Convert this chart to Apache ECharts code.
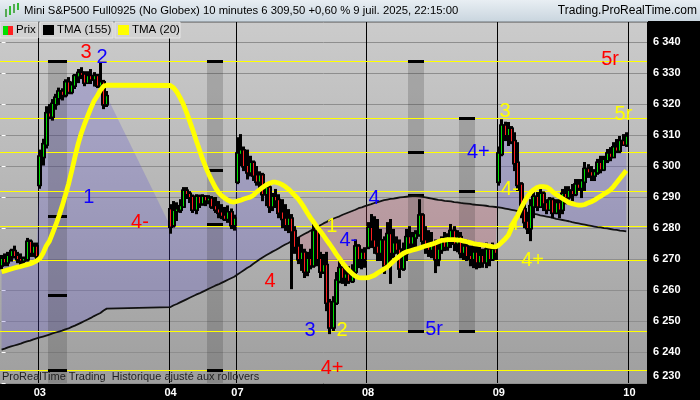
<!DOCTYPE html>
<html><head><meta charset="utf-8">
<script src="https://cdn.jsdelivr.net/npm/echarts/dist/echarts.min.js"></script>
<style>html,body{margin:0;padding:0;background:#000}#c{width:700px;height:400px}</style>
</head><body><div id="c"></div><script>
const FONT = '"Liberation Sans", Arial, sans-serif';
const dayLabels = ['03', '04', '07', '08', '09', '10'];
const dayStartSlots = [12, 53, 74, 115, 156, 197];
const slotCount = 203;
const sessionFirstSlots = [0, 12, 53, 74, 115, 156];

// [open, high, low, close]
const bars02 = [[6268,6271,6267,6270],[6270,6271.5,6268,6269],[6269,6272,6268,6271],[6271,6273,6269.5,6272.5],[6272.5,6274,6270.5,6271],[6271,6272,6269,6270],[6270,6271.5,6268.5,6269.5],[6269.5,6270.5,6268,6270],[6270,6276.5,6269.5,6275.5],[6275.5,6276,6271,6272],[6272,6275,6271,6274],[6274,6275,6270,6271]];
const bars03 = [[6294,6305,6293,6303],[6303,6308.5,6300.5,6307],[6307,6319,6306,6317],[6317,6319.7,6315.5,6316],[6316,6321.3,6315,6320],[6320,6323,6318.5,6322],[6322,6325,6320,6324],[6324,6324.8,6321.5,6323],[6323,6327.7,6322.5,6327],[6327,6328.4,6323.5,6324],[6324,6327,6323.5,6326],[6326,6329.4,6325.2,6329],[6329,6331,6327.1,6330],[6330,6331.6,6328.4,6329.5],[6329.5,6330.3,6326.1,6327],[6327,6330.3,6326.8,6329],[6329,6331,6326.8,6328],[6328,6330,6326,6329],[6329,6329.4,6325.5,6326],[6326,6333,6324.5,6327],[6327,6327.5,6318.7,6320],[6320,6323.9,6319.4,6322.5]];
const bars04 = [[6286,6287.4,6278.5,6280.5],[6281,6288.4,6280.5,6285.5],[6285.5,6288,6282.6,6286],[6286,6289,6285.2,6287],[6287,6292.9,6286.8,6292],[6292,6292.9,6289.7,6291],[6291,6291.6,6288.4,6290],[6290,6290.5,6285.2,6286],[6286,6290.6,6284.8,6290],[6290,6290.5,6286.8,6288],[6288,6290.6,6287.5,6290],[6290,6290.3,6287.4,6289],[6289,6290.3,6288,6289.5],[6289.5,6290,6286.5,6287],[6287,6289.7,6285.2,6286],[6286,6288.4,6283.5,6285],[6285,6287.4,6283.2,6284],[6284,6286.5,6282.6,6283],[6283,6287,6282,6285],[6285,6286,6280,6281],[6281,6284,6279.5,6283]];
const bars07 = [[6295,6309,6294.5,6304],[6304,6310,6300.3,6305],[6305,6306,6298.7,6300],[6300,6305,6296,6298],[6298,6303,6297,6301],[6301,6301.5,6295.5,6297],[6297,6299.7,6294,6295],[6295,6298,6292.3,6297],[6297,6297.5,6289,6291],[6291,6294,6287.4,6293],[6293,6293.5,6285.2,6287],[6287,6291,6285.8,6290],[6290,6292.3,6286.8,6289],[6289,6290.6,6283.5,6285],[6285,6289,6280.3,6283],[6283,6287.4,6279.4,6281],[6281,6285.8,6278.7,6283],[6283,6284.2,6260.6,6279],[6279,6280.3,6272,6274],[6274,6276.8,6268.7,6270],[6270,6274.5,6266.5,6272],[6272,6273,6264.2,6266],[6266,6272,6264.8,6270],[6270,6273,6267,6268],[6268,6281.6,6267.5,6279],[6279,6279.5,6268,6270],[6270,6272,6264.2,6266],[6266,6271.3,6265.5,6268],[6268,6272,6253.5,6256],[6256,6256.8,6246.1,6248],[6248,6257.7,6247.1,6256],[6256,6265.5,6255.5,6263],[6263,6269.7,6262.5,6267],[6267,6267.4,6262.3,6264],[6264,6266.5,6261.6,6265],[6265,6267.4,6262.3,6263],[6263,6268,6262.6,6266],[6266,6276,6265.5,6274],[6274,6274.5,6267.4,6270],[6270,6273,6267,6272],[6272,6273.5,6267.5,6270]];
const bars08 = [[6274,6281.6,6273.5,6280],[6280,6284.2,6273.9,6276],[6276,6283.5,6272,6274],[6274,6282.6,6269.7,6272],[6272,6279.4,6269.7,6276],[6276,6277,6265.5,6268],[6268,6281.6,6267.5,6278],[6278,6282.6,6262.3,6272],[6272,6279.4,6270.6,6275],[6275,6277,6272,6273],[6273,6276,6264.2,6267],[6267,6275,6266.5,6272],[6272,6279.4,6269.7,6277],[6277,6280.3,6272.9,6275],[6275,6278.4,6273.9,6277],[6277,6279,6273.5,6278],[6278,6289,6277.5,6284],[6284,6284.5,6273.9,6276],[6276,6280.3,6272,6274],[6274,6279,6271,6273],[6273,6278.4,6270.6,6275],[6275,6276,6265.8,6270],[6270,6275,6268,6273],[6273,6277,6272,6276],[6276,6278.4,6272.9,6274],[6274,6278,6273,6277],[6277,6281,6273.9,6279],[6279,6280.3,6272.9,6275],[6275,6279,6272.5,6277],[6277,6278.4,6270.6,6272],[6272,6276,6270,6274],[6274,6276,6269.7,6271],[6271,6274,6268,6270],[6270,6275,6267.4,6272],[6272,6274,6267,6269],[6269,6273.9,6267.4,6271],[6271,6273,6267.5,6269],[6269,6275,6267.4,6273],[6273,6274,6268,6270],[6270,6275,6269.7,6273],[6273,6274,6270,6272]];
const bars09 = [[6295,6306,6294,6304],[6304,6314.8,6303.5,6313],[6313,6314,6308.4,6310],[6310,6313.9,6306.8,6312],[6312,6312.6,6307.4,6308],[6308,6310.6,6298.7,6301],[6301,6307.4,6292.3,6294],[6294,6294.5,6283.5,6286],[6286,6288,6280.3,6282],[6282,6284.8,6278.4,6280],[6280,6289,6276.1,6287],[6287,6292.3,6283.5,6290],[6290,6291.3,6285.8,6287],[6287,6292.3,6286.8,6291],[6291,6291.5,6285.8,6288],[6288,6289,6284.8,6286],[6286,6289.7,6285.8,6289],[6289,6289.5,6283.5,6285],[6285,6289,6284.8,6288],[6288,6289,6283.5,6286],[6286,6292.3,6284.8,6291],[6291,6293.2,6288,6290],[6290,6293.2,6289.5,6292],[6292,6293.9,6289,6291],[6291,6295.5,6290.6,6294],[6294,6295.5,6292.3,6293],[6293,6295.5,6290,6295],[6295,6301,6292.3,6299],[6299,6300.3,6296.5,6298],[6298,6299.7,6295.5,6297],[6297,6298.7,6295.5,6298],[6298,6302,6297.5,6301],[6301,6303,6298,6299],[6299,6303,6298.7,6302],[6302,6305.2,6301.3,6304],[6304,6305.8,6301.9,6303],[6303,6307.4,6302.9,6306],[6306,6308.4,6304.5,6305],[6305,6309.4,6304.5,6308],[6308,6310,6306.8,6307],[6307,6310.6,6306.5,6309.5]];

const tmaSlow02 = [6240.8,6241.1,6241.5,6241.8,6242.1,6242.4,6242.7,6243.1,6243.4,6243.7,6244.1,6244.4];
const tmaSlow03 = [6244.7,6245.0,6245.3,6245.6,6246.0,6246.3,6246.6,6246.9,6247.3,6247.6,6248.1,6248.5,6249.0,6249.5,6250.0,6250.5,6251.0,6251.6,6252.1,6252.6,6253.4,6254.0];
const tmaSlow04 = [6254.5,6255.1,6255.5,6256.0,6256.5,6257.0,6257.5,6258.0,6258.5,6258.9,6259.4,6259.9,6260.4,6260.9,6261.4,6261.8,6262.3,6262.8,6263.3,6263.8,6264.3];
const tmaSlow07 = [6265.0,6265.7,6266.4,6267.1,6267.7,6268.5,6269.2,6269.9,6270.6,6271.2,6271.8,6272.4,6272.9,6273.5,6274.1,6274.7,6275.2,6275.8,6276.4,6276.9,6277.5,6278.1,6278.6,6279.2,6279.7,6280.3,6280.9,6281.5,6282.0,6282.6,6283.0,6283.4,6283.8,6284.3,6284.7,6285.1,6285.5,6285.9,6286.4,6286.7,6287.1];
const tmaSlow08 = [6287.4,6287.7,6288.1,6288.4,6288.7,6289.0,6289.2,6289.4,6289.5,6289.7,6289.9,6290.0,6290.1,6290.2,6290.3,6290.3,6290.2,6290.1,6289.9,6289.7,6289.5,6289.3,6289.1,6289.0,6288.8,6288.7,6288.6,6288.4,6288.3,6288.1,6288.0,6287.9,6287.8,6287.6,6287.5,6287.4,6287.3,6287.2,6287.0,6286.9,6286.8];
const tmaSlow09 = [6286.7,6286.5,6286.3,6286.1,6285.9,6285.7,6285.5,6285.4,6285.2,6285.0,6284.8,6284.6,6284.4,6284.1,6283.9,6283.7,6283.5,6283.3,6283.0,6282.8,6282.6,6282.4,6282.2,6281.9,6281.7,6281.5,6281.3,6281.1,6280.9,6280.7,6280.5,6280.3,6280.2,6280.0,6279.9,6279.7,6279.5,6279.4,6279.2,6279.1,6278.91];

const tmaFast02 = [6265.9,6266.2,6266.5,6266.8,6267.1,6267.4,6267.6,6267.9,6268.2,6268.5,6268.9,6269.4];
const tmaFast03 = [6270.2,6271.9,6274.2,6275.8,6278.4,6281.0,6283.9,6287.1,6290.6,6294.2,6298.4,6302.9,6307.1,6310.6,6313.5,6316.1,6318.7,6321.0,6322.6,6324.5,6325.8,6326.1];
const tmaFast04 = [6326.0,6325.2,6323.9,6322.1,6320.0,6317.4,6314.5,6311.6,6308.5,6305.5,6302.4,6299.8,6297.4,6295.2,6293.2,6291.6,6290.5,6289.7,6289.0,6288.5,6288.4];
const tmaFast07 = [6288.7,6289.0,6289.4,6289.7,6290.0,6290.6,6291.6,6292.4,6293.2,6293.9,6294.4,6294.8,6294.8,6294.5,6294.0,6293.4,6292.6,6291.6,6290.5,6289.5,6288.1,6286.5,6284.8,6283.2,6281.8,6280.3,6279.0,6277.6,6276.1,6274.7,6273.2,6271.6,6270.2,6268.7,6267.4,6266.3,6265.3,6264.5,6264.0,6263.9,6263.9];
const tmaFast08 = [6264.0,6264.4,6264.8,6265.5,6266.1,6266.8,6267.4,6268.4,6269.4,6270.2,6271.0,6271.8,6272.3,6272.6,6272.9,6273.2,6273.5,6273.9,6274.2,6274.5,6274.8,6275.2,6275.6,6276.0,6276.1,6276.3,6276.3,6276.3,6276.1,6276.1,6275.8,6275.6,6275.3,6275.0,6274.8,6274.7,6274.5,6274.4,6274.2,6274.0,6273.9];
const tmaFast09 = [6274.5,6275.5,6276.5,6277.7,6280.0,6282.3,6284.2,6286.5,6288.4,6290.2,6291.5,6292.4,6293.1,6293.4,6293.4,6293.2,6292.6,6291.6,6290.8,6290.2,6289.5,6288.9,6288.2,6287.9,6287.6,6287.4,6287.4,6287.6,6288.1,6288.5,6289.0,6289.7,6290.3,6291.0,6291.6,6292.3,6293.4,6294.7,6296.0,6297.3,6298.61];

const levels = [6333.9, 6315.2, 6304.5, 6291.9, 6280.6, 6269.4, 6246.5, 6233.9];

const bandStartSlots = [15, 65, 128, 144];
const bandEndSlots = [20, 69, 132, 148];
const bandTops = [6333.9, 6333.9, 6333.9, 6315.2];
const bandBottoms = [6230, 6230, 6246.5, 6246.5];
const dashBand = [0, 0, 0, 0, 1, 1, 1, 1, 2, 2, 2, 2, 3, 3, 3];
const dashValues = [6333.9, 6283.6, 6258.3, 6233.9, 6333.9, 6298.7, 6281.0, 6233.9, 6333.9, 6304.5, 6290.6, 6246.5, 6315.2, 6291.9, 6246.5];

const annSlots = [26.5, 31.5, 27.4, 43.4, 84.2, 96.8, 106.8, 103.6, 108.8, 116.9, 103.7, 135.7, 149.6, 158, 159.5, 160.6, 166.6, 190.9, 195.1];
const annValues = [6336.8, 6335.2, 6290, 6281.9, 6262.9, 6246.8, 6247.1, 6280.6, 6275.9, 6289.4, 6234.8, 6247.3, 6304.4, 6317.5, 6292.3, 6281, 6269.5, 6334.4, 6316.5];
const annTexts = ['3', '2', '1', '4-', '4', '3', '2', '1', '4-', '4', '4+', '5r', '4+', '3', '4-', '4', '4+', '5r', '5r'];
const annColors = ['#f00', '#10f', '#10f', '#f00', '#f00', '#10f', '#ff0', '#ff0', '#10f', '#10f', '#f00', '#10f', '#10f', '#ff0', '#ff0', '#ff0', '#ff0', '#f00', '#ff0'];

function fmtInt(v) { const s = String(Math.round(v)); return s.slice(0, s.length - 3) + ' ' + s.slice(-3); }
function fmtDec(v) { const p = v.toFixed(2).split('.'); return p[0].slice(0, p[0].length - 3) + ' ' + p[0].slice(-3) + ',' + p[1]; }

const sessionBars = [bars02, bars03, bars04, bars07, bars08, bars09];
const sessionSlow = [tmaSlow02, tmaSlow03, tmaSlow04, tmaSlow07, tmaSlow08, tmaSlow09];
const sessionFast = [tmaFast02, tmaFast03, tmaFast04, tmaFast07, tmaFast08, tmaFast09];
const candleData = [], slowData = [], fastData = [], seq = [];
sessionBars.forEach((bars, s) => bars.forEach((b, k) => {
  const slot = sessionFirstSlots[s] + k;
  candleData.push([slot, b[0], b[3], b[2], b[1]]);
  slowData.push([slot, sessionSlow[s][k]]);
  fastData.push([slot, sessionFast[s][k]]);
  seq.push({ x: slot, c: b[3], s: sessionSlow[s][k] });
}));
const lastClose = seq[seq.length - 1].c;
const lastSlow = slowData[slowData.length - 1][1];
const lastFast = fastData[fastData.length - 1][1];

// regions between close and slow TMA
const regions = [];
let cur = null, prev = null;
seq.forEach(b => {
  const sg = b.c - b.s >= 0 ? 1 : -1;
  if (!cur) { cur = { sign: sg, a: [[b.x, b.c]], b: [[b.x, b.s]] }; }
  else if (sg === cur.sign) { cur.a.push([b.x, b.c]); cur.b.push([b.x, b.s]); }
  else {
    const dp = prev.c - prev.s, d = b.c - b.s, t = dp / (dp - d);
    const xm = prev.x + t * (b.x - prev.x), ym = prev.c + t * (b.c - prev.c);
    cur.a.push([xm, ym]); cur.b.push([xm, ym]); regions.push(cur);
    cur = { sign: sg, a: [[xm, ym], [b.x, b.c]], b: [[xm, ym], [b.x, b.s]] };
  }
  prev = b;
});
regions.push(cur);

const slotNames = Array.from({ length: slotCount }, (_, i) => 's' + i);
const isDayStart = (i) => dayStartSlots.indexOf(i) >= 0;

const chart = echarts.init(document.getElementById('c'), null, { renderer: 'canvas' });
chart.setOption({
  animation: false,
  backgroundColor: '#000',
  grid: { left: 0, right: 53, top: 22, bottom: 17, show: true, borderWidth: 0, outerBoundsMode: 'none', containLabel: false,
    backgroundColor: { type: 'linear', x: 0, y: 0, x2: 0, y2: 1, colorStops: [{ offset: 0, color: '#cbcbcb' }, { offset: 1, color: '#9f9f9f' }] } },
  xAxis: [
    { type: 'value', min: -0.5, max: slotCount - 0.5, show: false, splitLine: { show: false } },
    { type: 'category', data: slotNames, boundaryGap: true, position: 'bottom',
      axisLine: { show: false }, axisTick: { show: false },
      axisLabel: { interval: (i) => isDayStart(i), color: '#fff', fontSize: 11, fontWeight: 'bold', fontFamily: FONT, margin: 4,
        formatter: (v, i) => dayLabels[dayStartSlots.indexOf(i)] || '' },
      splitLine: { show: true, interval: (i) => isDayStart(i), lineStyle: { color: '#000', width: 1 } } }
  ],
  yAxis: { type: 'value', position: 'right', min: 6230, max: 6346.5, interval: 10,
    axisLine: { show: false },
    axisTick: { show: true, length: 4, lineStyle: { color: '#fff' } },
    axisLabel: { color: '#fff', fontSize: 11, fontWeight: 'bold', fontFamily: FONT, margin: 6, showMaxLabel: false,
      formatter: (v) => (Math.abs(v % 10) > 0.01 ? '' : (v === 6230 ? '{lo|' + fmtInt(v) + '}' : fmtInt(v))),
      rich: { lo: { color: '#fff', fontSize: 11, fontWeight: 'bold', fontFamily: FONT, padding: [0, 0, 15, 0] } } },
    splitLine: { show: true, lineStyle: { color: '#8e8e8e', width: 1 } } },
  graphic: [
    { type: 'rect', z: 100, shape: { x: 0, y: 0, width: 700, height: 21 }, style: { fill: { type: 'linear', x: 0, y: 0, x2: 0, y2: 1, colorStops: [{ offset: 0, color: '#e8eef3' }, { offset: 1, color: '#cad6df' }] } } },
    { type: 'rect', z: 100, shape: { x: 0, y: 21, width: 700, height: 1 }, style: { fill: '#9aa3aa' } },
    { type: 'rect', z: 100, shape: { x: 648, y: 21, width: 52, height: 3 }, style: { fill: '#000' } },
    { type: 'rect', z: 101, shape: { x: 5, y: 9, width: 2, height: 8 }, style: { fill: '#5a5' } },
    { type: 'rect', z: 101, shape: { x: 9, y: 6, width: 2, height: 9 }, style: { fill: '#3b3' } },
    { type: 'rect', z: 101, shape: { x: 13, y: 4, width: 2, height: 9 }, style: { fill: '#5a5' } },
    { type: 'rect', z: 101, shape: { x: 17, y: 3, width: 2, height: 7 }, style: { fill: '#3b3' } },
    { type: 'text', z: 101, x: 24, y: 11, style: { text: 'Mini S&P500 Full0925 (No Globex) 10 minutes ' + fmtDec(lastClose) + ' +0,60 % 9 juil. 2025, 22:15:00', font: '11.3px ' + FONT, fill: '#000', verticalAlign: 'middle' } },
    { type: 'text', z: 101, x: 697, y: 11, style: { text: 'Trading.ProRealTime.com', font: '12px ' + FONT, fill: '#000', align: 'right', verticalAlign: 'middle' } },
    { type: 'rect', z: 100, shape: { x: 0, y: 22, width: 38, height: 16 }, style: { fill: '#d2d2d2', stroke: '#e6e6e6', lineWidth: 1 } },
    { type: 'rect', z: 100, shape: { x: 40, y: 22, width: 73, height: 16 }, style: { fill: '#d2d2d2', stroke: '#e6e6e6', lineWidth: 1 } },
    { type: 'rect', z: 100, shape: { x: 115, y: 22, width: 65, height: 16 }, style: { fill: '#d2d2d2', stroke: '#e6e6e6', lineWidth: 1 } },
    { type: 'rect', z: 101, shape: { x: 3, y: 26, width: 5, height: 9 }, style: { fill: '#00e000' } },
    { type: 'rect', z: 101, shape: { x: 8, y: 26, width: 5, height: 9 }, style: { fill: '#ff2020' } },
    { type: 'rect', z: 101, shape: { x: 43, y: 25, width: 11, height: 10 }, style: { fill: '#000' } },
    { type: 'rect', z: 101, shape: { x: 118, y: 25, width: 11, height: 10 }, style: { fill: '#ffff00' } },
    { type: 'text', z: 101, x: 16, y: 30, style: { text: 'Prix', font: '11.5px ' + FONT, fill: '#000', verticalAlign: 'middle' } },
    { type: 'text', z: 101, x: 57, y: 30, style: { text: 'TMA (155)', font: '11.5px ' + FONT, fill: '#000', verticalAlign: 'middle' } },
    { type: 'text', z: 101, x: 132, y: 30, style: { text: 'TMA (20)', font: '11.5px ' + FONT, fill: '#000', verticalAlign: 'middle' } },
    { type: 'text', z: 101, x: 2, y: 377, style: { text: 'ProRealTime Trading  Historique ajusté aux rollovers', font: '11px ' + FONT, fill: '#222', verticalAlign: 'middle' } }
  ],
  series: [
    { type: 'custom', name: 'fill', z: 1, silent: true, xAxisIndex: 0,
      data: regions.map(r => [r.a[0][0], r.a[0][1]]),
      renderItem: (params, api) => {
        const r = regions[params.dataIndex];
        const pts = r.a.concat(r.b.slice().reverse()).map(p => api.coord(p));
        return { type: 'polygon', shape: { points: pts }, style: { fill: r.sign > 0 ? 'rgba(92,80,210,0.26)' : 'rgba(205,70,95,0.22)' } };
      } },
    { type: 'custom', name: 'bands', z: 2, silent: true, xAxisIndex: 0,
      data: bandStartSlots.map((s, i) => [s, bandTops[i]]),
      renderItem: (params, api) => {
        const i = params.dataIndex;
        const a = api.coord([bandStartSlots[i] - 0.5, bandTops[i]]);
        const b = api.coord([bandEndSlots[i] + 0.5, bandBottoms[i]]);
        return { type: 'rect', shape: { x: Math.round(a[0]), y: Math.round(a[1]), width: Math.round(b[0]) - Math.round(a[0]), height: Math.round(b[1]) - Math.round(a[1]) }, style: { fill: 'rgba(40,40,40,0.2)' } };
      } },
    { type: 'custom', name: 'levels', z: 3, silent: true, xAxisIndex: 0,
      data: levels.map(v => [-0.5, v]),
      renderItem: (params, api) => {
        const v = levels[params.dataIndex];
        const a = api.coord([-0.5, v]), b = api.coord([slotCount - 0.5, v]);
        return { type: 'rect', shape: { x: a[0], y: Math.floor(a[1]), width: b[0] - a[0], height: 1 }, style: { fill: '#ffff00' } };
      } },
    { type: 'custom', name: 'dashes', z: 3, silent: true, xAxisIndex: 0,
      data: dashValues.map((v, i) => [bandStartSlots[dashBand[i]], v]),
      renderItem: (params, api) => {
        const i = params.dataIndex, bi = dashBand[i];
        const a = api.coord([bandStartSlots[bi] - 0.5, dashValues[i]]);
        const b = api.coord([bandEndSlots[bi] + 0.5, dashValues[i]]);
        return { type: 'rect', shape: { x: Math.round(a[0]), y: Math.floor(a[1]) - 1, width: Math.round(b[0]) - Math.round(a[0]), height: 3 }, style: { fill: '#000' } };
      } },
    { type: 'line', name: 'TMA (155)', z: 3, xAxisIndex: 0, data: slowData, showSymbol: false, silent: true,
      lineStyle: { color: '#111', width: 1.8 } },
    { type: 'custom', name: 'Prix', z: 4, silent: true, xAxisIndex: 0, data: candleData,
      encode: { x: 0, y: [1, 2, 3, 4] },
      renderItem: (params, api) => {
        const x = api.value(0), o = api.value(1), c = api.value(2), l = api.value(3), h = api.value(4);
        const pH = api.coord([x, h]), pL = api.coord([x, l]), pO = api.coord([x, o]), pC = api.coord([x, c]);
        const cx = Math.round(pH[0] - 0.5);
        const top = Math.min(pO[1], pC[1]), bot = Math.max(pO[1], pC[1]);
        return { type: 'group', children: [
          { type: 'rect', shape: { x: cx - 1, y: pH[1] - 1, width: 3, height: pL[1] - pH[1] + 2 }, style: { fill: '#000' } },
          { type: 'rect', shape: { x: cx - 2, y: top - 1.5, width: 5, height: bot - top + 3 }, style: { fill: '#000' } },
          { type: 'rect', shape: { x: cx, y: top, width: 1, height: Math.max(bot - top, 1) }, style: { fill: c >= o ? '#00e000' : '#ff2020' } }
        ] };
      } },
    { type: 'line', name: 'TMA (20)', z: 5, xAxisIndex: 0, data: fastData, showSymbol: false, silent: true,
      lineStyle: { color: '#ffff00', width: 4.8 },
      markLine: { silent: true, symbol: ['none', 'none'], animation: false,
        lineStyle: { opacity: 0 },
        label: { show: true, position: 'end', distance: 4, fontSize: 11, fontWeight: 'bold', fontFamily: FONT, padding: [2, 3, 1, 3], borderWidth: 1 },
        data: [
          { yAxis: lastClose, label: { formatter: fmtDec(lastClose), color: '#000', backgroundColor: '#f2c200', borderColor: '#8a8a8a' } },
          { yAxis: lastFast, label: { formatter: fmtDec(lastFast), color: '#ffff00', backgroundColor: '#9d9d9d', borderColor: '#c8c8c8' } },
          { yAxis: lastSlow, label: { formatter: fmtDec(lastSlow), color: '#000', backgroundColor: '#9d9d9d', borderColor: '#c8c8c8' } }
        ] } },
    { type: 'custom', name: 'waves', z: 6, silent: true, xAxisIndex: 0,
      data: annSlots.map((s, i) => [s, annValues[i]]),
      renderItem: (params, api) => {
        const i = params.dataIndex;
        const p = api.coord([annSlots[i], annValues[i]]);
        return { type: 'text', x: p[0], y: p[1], style: { text: annTexts[i], fill: annColors[i], font: '20px ' + FONT, align: 'center', verticalAlign: 'middle' } };
      } }
  ]
});
</script></body></html>
